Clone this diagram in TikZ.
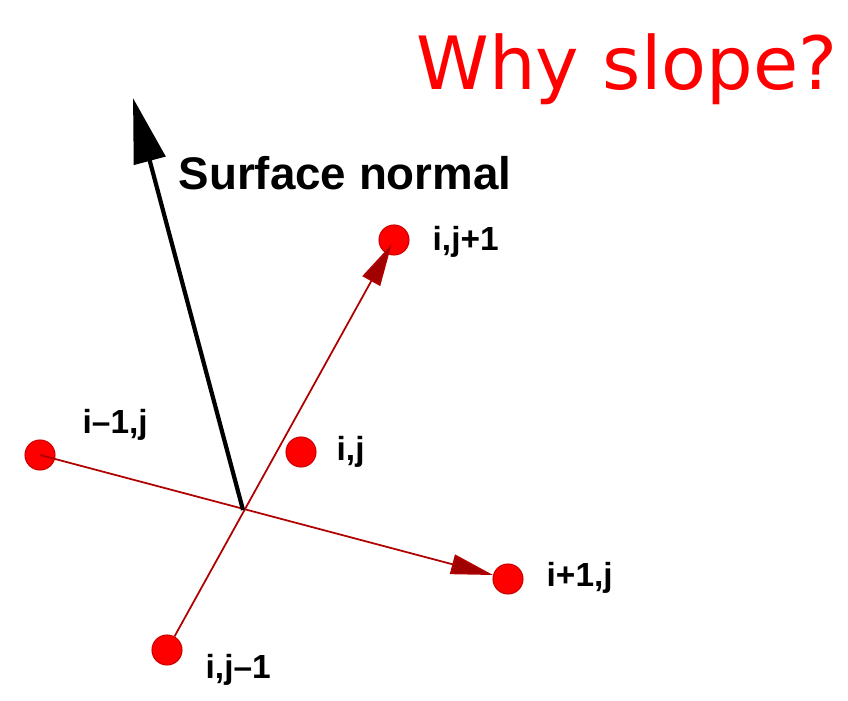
\documentclass[tikz,border=0pt]{standalone}
\usepackage{fontspec}
\usepackage{xcolor}
\usetikzlibrary{arrows.meta}
\newfontfamily\lblfont{Liberation Sans}
\newfontfamily\ttlfont{DejaVu Sans}
\definecolor{dotred}{RGB}{255,0,0}
\definecolor{linered}{RGB}{176,0,0}
\definecolor{tipred}{RGB}{160,0,0}

\tikzset{
  gridpt/.style={circle,fill=dotred,draw=dotred!80!black,line width=0.3pt,inner sep=0pt,minimum size=0.3cm},
  redline/.style={linered,line width=0.5pt,-{Triangle[length=0.42cm,width=0.2cm,fill=tipred]}},
  lbl/.style={font=\lblfont\bfseries\fontsize{9.5pt}{11pt}\selectfont,anchor=west,inner sep=0pt}
}

\begin{document}
\begin{tikzpicture}[x=0.01cm,y=-0.01cm]
\useasboundingbox (0,0) rectangle (848,701);
% grid points
\coordinate (c) at (243,510);
\node[gridpt] (im) at (40,455){};
\node[gridpt] (ip) at (508,579){};
\node[gridpt] (jm) at (167,650){};
\node[gridpt] (jp) at (394,240){};
\node[gridpt] (ij) at (301,452){};
% slopes
\draw[redline] (im.center) -- (ip);
\draw[redline,shorten >=0.05cm] (jm) -- (jp.center);
% normal
\coordinate (ntip) at (133,98);
\draw[line width=1.2pt,-{Triangle[length=0.65cm,width=0.32cm]}] (c) -- (ntip);
% labels
\node[lbl] at (432,242){i,j+1};
\node[lbl] at (82,425){i–1,j};
\node[lbl] at (336,452){i,j};
\node[lbl] at (546,578){i+1,j};
\node[lbl] at (205,670){i,j–1};
\node[font=\lblfont\bfseries\fontsize{13pt}{15pt}\selectfont,anchor=base west,inner sep=0pt] (sn) at (178,190){Surface normal};
\node[font=\ttlfont\fontsize{20.9pt}{25pt}\selectfont,text=red,anchor=base east,inner sep=0pt] (why) at (838,90){Why slope?};
\end{tikzpicture}
\end{document}
